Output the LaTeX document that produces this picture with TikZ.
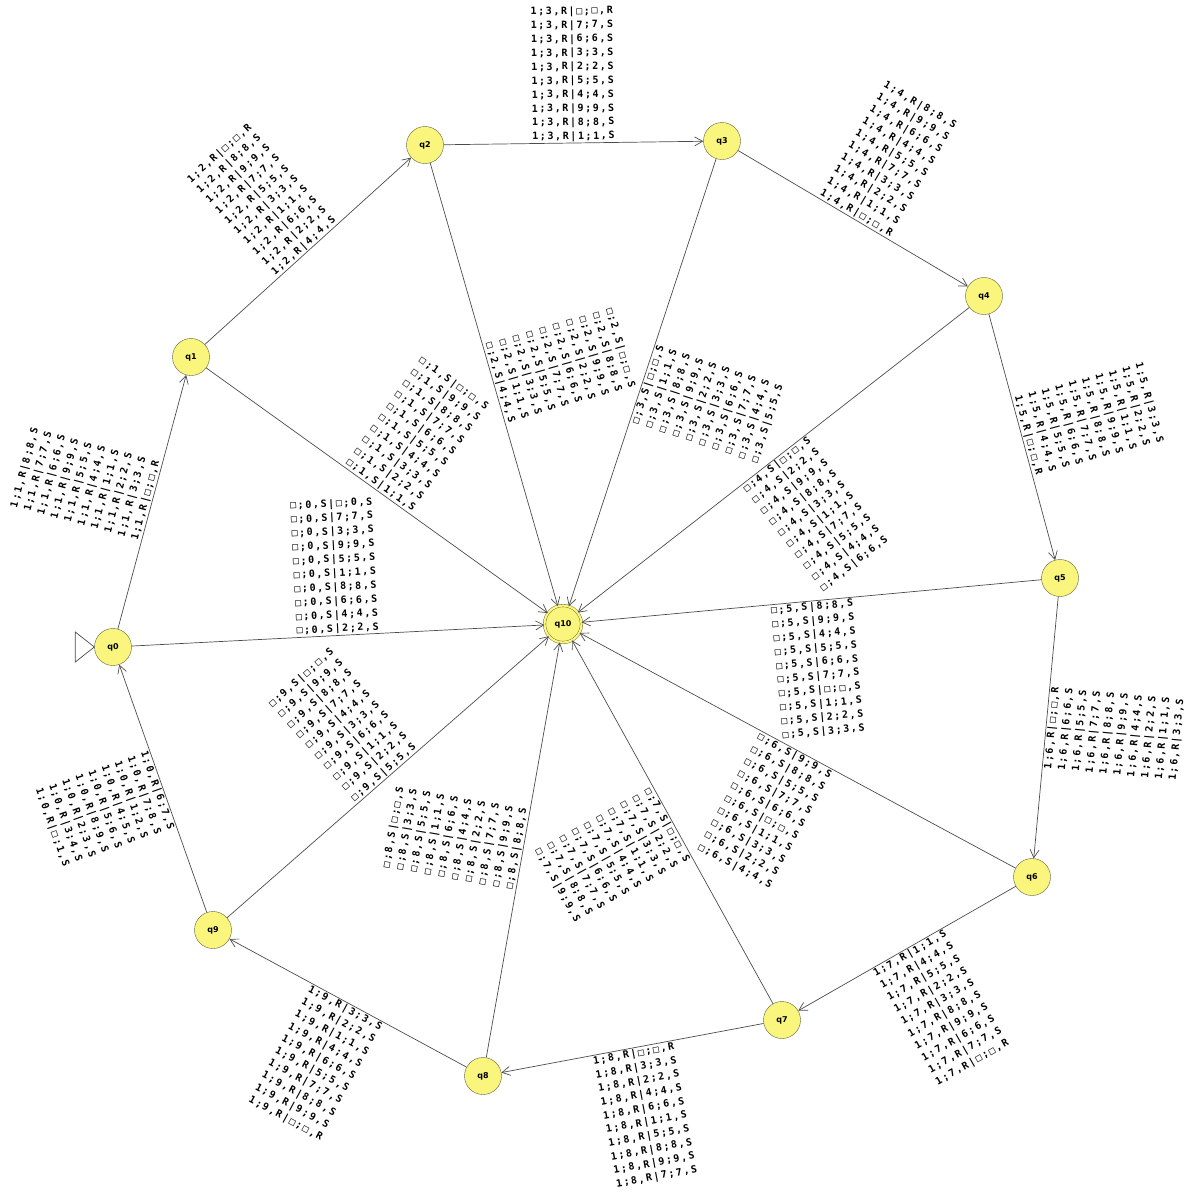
\documentclass[tikz,border=0pt]{standalone}
\usepackage{fontspec}
\usetikzlibrary{arrows.meta}
\newfontfamily\lblfont{DejaVu Sans Mono}[LetterSpace=16]
\newfontfamily\statefont{DejaVu Sans}
\definecolor{stateyellow}{RGB}{250,245,125}
\definecolor{stateborder}{RGB}{95,95,60}
% one transition line: prefix|d;d,S
\newcommand{\tl}[2]{#1|#2;#2,S}
\tikzset{
  stnode/.style={
    circle,
    draw=stateborder,
    fill=stateyellow,
    minimum size=37pt,
    inner sep=0pt,
    font=\statefont\bfseries\fontsize{8}{9}\selectfont
  },
  accept/.style={
    double=stateyellow,
    double distance=2.2pt
  },
  trans/.style={
    draw=black!70,
    line width=0.7pt,
    -{Straight Barb[length=8pt,width=9pt]}
  },
  lbl/.style={
    sloped,
    inner sep=1pt,
    align=center,
    font=\lblfont\bfseries\fontsize{10}{13.9}\selectfont
  }
}
\begin{document}
\begin{tikzpicture}[x=1pt,y=-1pt]
  \useasboundingbox (0,0) rectangle (1188,1195);
  % states
  \node[stnode] (q0) at (113,647) {q0};
  \node[stnode] (q1) at (191,357) {q1};
  \node[stnode] (q2) at (425,145) {q2};
  \node[stnode] (q3) at (722,141) {q3};
  \node[stnode] (q4) at (984,296) {q4};
  \node[stnode] (q5) at (1060,578) {q5};
  \node[stnode] (q6) at (1032,877) {q6};
  \node[stnode] (q7) at (782,1020) {q7};
  \node[stnode] (q8) at (483,1076) {q8};
  \node[stnode] (q9) at (213,930) {q9};
  \node[stnode,accept] (q10) at (563,624) {q10};
  % initial marker
  \draw[draw=black!70, fill=white, line width=0.7pt] (q0.west) -- ++(-19,-15) -- ++(0,30) -- cycle;
  % ring
  \draw[trans] (q0) -- node[lbl,above] {\tl{1;1,R}{8}\\\tl{1;1,R}{7}\\\tl{1;1,R}{6}\\\tl{1;1,R}{9}\\\tl{1;1,R}{5}\\\tl{1;1,R}{4}\\\tl{1;1,R}{1}\\\tl{1;1,R}{2}\\\tl{1;1,R}{3}\\1;1,R|□;□,R} (q1);
  \draw[trans] (q1) -- node[lbl,above] {1;2,R|□;□,R\\\tl{1;2,R}{8}\\\tl{1;2,R}{9}\\\tl{1;2,R}{7}\\\tl{1;2,R}{5}\\\tl{1;2,R}{3}\\\tl{1;2,R}{1}\\\tl{1;2,R}{6}\\\tl{1;2,R}{2}\\\tl{1;2,R}{4}} (q2);
  \draw[trans] (q2) -- node[lbl,above] {1;3,R|□;□,R\\\tl{1;3,R}{7}\\\tl{1;3,R}{6}\\\tl{1;3,R}{3}\\\tl{1;3,R}{2}\\\tl{1;3,R}{5}\\\tl{1;3,R}{4}\\\tl{1;3,R}{9}\\\tl{1;3,R}{8}\\\tl{1;3,R}{1}} (q3);
  \draw[trans] (q3) -- node[lbl,above] {\tl{1;4,R}{8}\\\tl{1;4,R}{9}\\\tl{1;4,R}{6}\\\tl{1;4,R}{4}\\\tl{1;4,R}{5}\\\tl{1;4,R}{7}\\\tl{1;4,R}{3}\\\tl{1;4,R}{2}\\\tl{1;4,R}{1}\\1;4,R|□;□,R} (q4);
  \draw[trans] (q4) -- node[lbl,above] {\tl{1;5,R}{3}\\\tl{1;5,R}{2}\\\tl{1;5,R}{1}\\\tl{1;5,R}{9}\\\tl{1;5,R}{8}\\\tl{1;5,R}{7}\\\tl{1;5,R}{6}\\\tl{1;5,R}{5}\\\tl{1;5,R}{4}\\1;5,R|□;□,R} (q5);
  \draw[trans] (q5) -- node[lbl,below] {1;6,R|□;□,R\\\tl{1;6,R}{6}\\\tl{1;6,R}{5}\\\tl{1;6,R}{7}\\\tl{1;6,R}{8}\\\tl{1;6,R}{9}\\\tl{1;6,R}{4}\\\tl{1;6,R}{2}\\\tl{1;6,R}{1}\\\tl{1;6,R}{3}} (q6);
  \draw[trans] (q6) -- node[lbl,below] {\tl{1;7,R}{1}\\\tl{1;7,R}{4}\\\tl{1;7,R}{5}\\\tl{1;7,R}{2}\\\tl{1;7,R}{3}\\\tl{1;7,R}{8}\\\tl{1;7,R}{9}\\\tl{1;7,R}{6}\\\tl{1;7,R}{7}\\1;7,R|□;□,R} (q7);
  \draw[trans] (q7) -- node[lbl,below] {1;8,R|□;□,R\\\tl{1;8,R}{3}\\\tl{1;8,R}{2}\\\tl{1;8,R}{4}\\\tl{1;8,R}{6}\\\tl{1;8,R}{1}\\\tl{1;8,R}{5}\\\tl{1;8,R}{8}\\\tl{1;8,R}{9}\\\tl{1;8,R}{7}} (q8);
  \draw[trans] (q8) -- node[lbl,below] {\tl{1;9,R}{3}\\\tl{1;9,R}{2}\\\tl{1;9,R}{1}\\\tl{1;9,R}{4}\\\tl{1;9,R}{6}\\\tl{1;9,R}{5}\\\tl{1;9,R}{7}\\\tl{1;9,R}{8}\\\tl{1;9,R}{9}\\1;9,R|□;□,R} (q9);
  \draw[trans] (q9) -- node[lbl,below] {1;0,R|6;7,S\\1;0,R|7;8,S\\1;0,R|1;2,S\\1;0,R|4;5,S\\1;0,R|5;6,S\\1;0,R|8;9,S\\1;0,R|2;3,S\\1;0,R|3;4,S\\1;0,R|□;1,S} (q0);
  % spokes into q10
  \draw[trans] (q0) -- node[lbl,above] {□;0,S|□;0,S\\\tl{□;0,S}{7}\\\tl{□;0,S}{3}\\\tl{□;0,S}{9}\\\tl{□;0,S}{5}\\\tl{□;0,S}{1}\\\tl{□;0,S}{8}\\\tl{□;0,S}{6}\\\tl{□;0,S}{4}\\\tl{□;0,S}{2}} (q10);
  \draw[trans] (q1) -- node[lbl,above] {\tl{□;1,S}{□}\\\tl{□;1,S}{9}\\\tl{□;1,S}{8}\\\tl{□;1,S}{7}\\\tl{□;1,S}{6}\\\tl{□;1,S}{5}\\\tl{□;1,S}{4}\\\tl{□;1,S}{3}\\\tl{□;1,S}{2}\\\tl{□;1,S}{1}} (q10);
  \draw[trans] (q2) -- node[lbl,above] {\tl{□;2,S}{□}\\\tl{□;2,S}{8}\\\tl{□;2,S}{9}\\\tl{□;2,S}{2}\\\tl{□;2,S}{6}\\\tl{□;2,S}{7}\\\tl{□;2,S}{5}\\\tl{□;2,S}{3}\\\tl{□;2,S}{1}\\\tl{□;2,S}{4}} (q10);
  \draw[trans] (q3) -- node[lbl,below] {\tl{□;3,S}{□}\\\tl{□;3,S}{1}\\\tl{□;3,S}{8}\\\tl{□;3,S}{9}\\\tl{□;3,S}{2}\\\tl{□;3,S}{3}\\\tl{□;3,S}{6}\\\tl{□;3,S}{7}\\\tl{□;3,S}{4}\\\tl{□;3,S}{5}} (q10);
  \draw[trans] (q4) -- node[lbl,below] {\tl{□;4,S}{□}\\\tl{□;4,S}{2}\\\tl{□;4,S}{9}\\\tl{□;4,S}{8}\\\tl{□;4,S}{3}\\\tl{□;4,S}{1}\\\tl{□;4,S}{7}\\\tl{□;4,S}{5}\\\tl{□;4,S}{4}\\\tl{□;4,S}{6}} (q10);
  \draw[trans] (q5) -- node[lbl,below] {\tl{□;5,S}{8}\\\tl{□;5,S}{9}\\\tl{□;5,S}{4}\\\tl{□;5,S}{5}\\\tl{□;5,S}{6}\\\tl{□;5,S}{7}\\\tl{□;5,S}{□}\\\tl{□;5,S}{1}\\\tl{□;5,S}{2}\\\tl{□;5,S}{3}} (q10);
  \draw[trans] (q6) -- node[lbl,below] {\tl{□;6,S}{9}\\\tl{□;6,S}{8}\\\tl{□;6,S}{5}\\\tl{□;6,S}{7}\\\tl{□;6,S}{6}\\\tl{□;6,S}{□}\\\tl{□;6,S}{1}\\\tl{□;6,S}{3}\\\tl{□;6,S}{2}\\\tl{□;6,S}{4}} (q10);
  \draw[trans] (q7) -- node[lbl,below] {\tl{□;7,S}{□}\\\tl{□;7,S}{2}\\\tl{□;7,S}{3}\\\tl{□;7,S}{1}\\\tl{□;7,S}{4}\\\tl{□;7,S}{5}\\\tl{□;7,S}{6}\\\tl{□;7,S}{7}\\\tl{□;7,S}{8}\\\tl{□;7,S}{9}} (q10);
  \draw[trans] (q8) -- node[lbl,above] {\tl{□;8,S}{□}\\\tl{□;8,S}{3}\\\tl{□;8,S}{5}\\\tl{□;8,S}{1}\\\tl{□;8,S}{6}\\\tl{□;8,S}{4}\\\tl{□;8,S}{2}\\\tl{□;8,S}{7}\\\tl{□;8,S}{9}\\\tl{□;8,S}{8}} (q10);
  \draw[trans] (q9) -- node[lbl,above] {\tl{□;9,S}{□}\\\tl{□;9,S}{9}\\\tl{□;9,S}{8}\\\tl{□;9,S}{7}\\\tl{□;9,S}{4}\\\tl{□;9,S}{3}\\\tl{□;9,S}{6}\\\tl{□;9,S}{1}\\\tl{□;9,S}{2}\\\tl{□;9,S}{5}} (q10);
\end{tikzpicture}
\end{document}
